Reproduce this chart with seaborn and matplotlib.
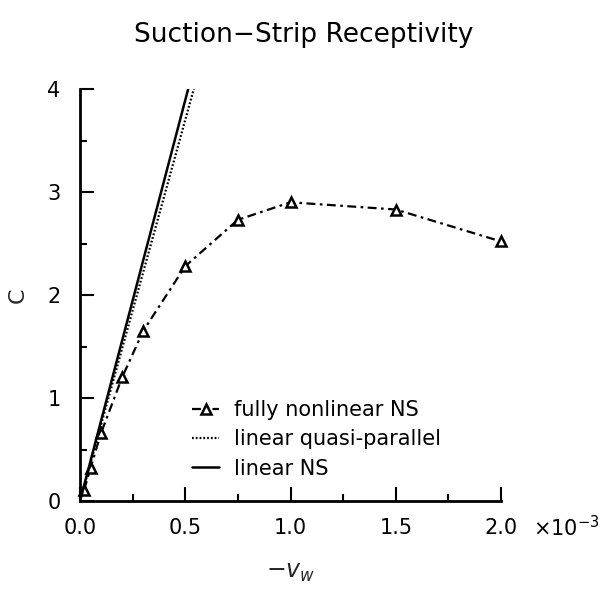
import matplotlib
matplotlib.use('Agg')
import matplotlib.pyplot as plt
import seaborn as sns
import pandas as pd
from matplotlib.ticker import MultipleLocator

# ---- data (x in units of 1e-3) ----
nl_x = [0.02, 0.05, 0.1, 0.2, 0.3, 0.5, 0.75, 1.0, 1.5, 2.0]
nl_c = [0.11, 0.32, 0.66, 1.2, 1.65, 2.28, 2.73, 2.9, 2.83, 2.52]
qp_x = [0.0, 0.6]
qp_c = [0.0, 4.44]
ns_x = [0.0, 0.6]
ns_c = [0.0, 4.67]

labels = ['fully nonlinear NS', 'linear quasi-parallel', 'linear NS']
x_ticks = [0.0, 0.5, 1.0, 1.5, 2.0]
x_ticklabels = ['0.0', '0.5', '1.0', '1.5', '2.0']
y_ticks = [0, 1, 2, 3, 4]

sns.set_style('ticks')
plt.rcParams['font.family'] = ['DejaVu Sans']
plt.rcParams['mathtext.fontset'] = 'dejavusans'

fig = plt.figure(figsize=(6.08, 5.94), dpi=100)
ax = fig.add_axes([80/608, 1 - 501/594, 421/608, 412/594])

df_nl = pd.DataFrame({'x': nl_x, 'C': nl_c})
df_qp = pd.DataFrame({'x': qp_x, 'C': qp_c})
df_ns = pd.DataFrame({'x': ns_x, 'C': ns_c})

sns.lineplot(data=df_nl, x='x', y='C', ax=ax, color='black', lw=1.6,
             linestyle=(0, (4, 2, 1.2, 2)), marker='^', markersize=7.5,
             markerfacecolor='white', markeredgecolor='black', markeredgewidth=1.8,
             label=labels[0], clip_on=False)
sns.lineplot(data=df_qp, x='x', y='C', ax=ax, color='black', lw=1.6,
             linestyle=(0, (0.8, 0.9)), label=labels[1])
sns.lineplot(data=df_ns, x='x', y='C', ax=ax, color='black', lw=1.8,
             linestyle='-', label=labels[2])

ax.set_xlim(0, 2.0)
ax.set_ylim(0, 4)
ax.set_xticks(x_ticks)
ax.set_xticklabels(x_ticklabels)
ax.set_yticks(y_ticks)
ax.xaxis.set_minor_locator(MultipleLocator(0.25))
ax.yaxis.set_minor_locator(MultipleLocator(0.5))
ax.tick_params(which='major', direction='in', length=10, width=1.5, labelsize=15,
               color='black', labelcolor='black')
ax.tick_params(which='minor', direction='in', length=5, width=1.5, color='black')
ax.tick_params(axis='x', pad=12)
ax.tick_params(axis='y', pad=14)
for s in ['top', 'right']:
    ax.spines[s].set_visible(False)
for s in ['left', 'bottom']:
    ax.spines[s].set_linewidth(2.0)
    ax.spines[s].set_color('black')

ax.set_xlabel(r'$-v_w$', fontsize=17, labelpad=16)
ax.set_ylabel('C', fontsize=16, labelpad=14)
ax.text(1.075, -0.065, r'$\times10^{-3}$', transform=ax.transAxes,
        fontsize=15, va='center', ha='left', color='black')

fig.text(0.5, 1 - 35/594, 'Suction\u2212Strip Receptivity', fontsize=19,
         ha='center', va='center', color='black')

leg = ax.legend(loc='center left', bbox_to_anchor=(0.266, 0.15), frameon=False,
                fontsize=15, handlelength=1.3, handletextpad=0.7,
                labelspacing=0.45, borderpad=0, borderaxespad=0)
for t in leg.get_texts():
    t.set_color('black')

fig.savefig('out.png', dpi=100)
